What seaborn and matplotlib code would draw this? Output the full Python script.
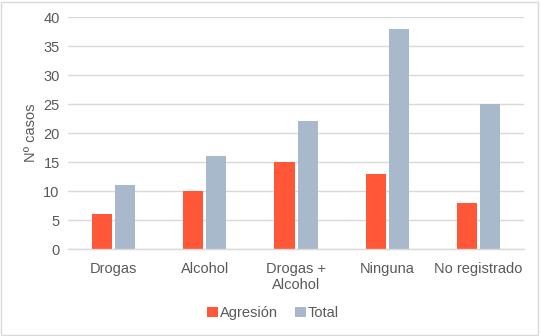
import matplotlib
matplotlib.use("Agg")
import matplotlib.pyplot as plt
import seaborn as sns
import pandas as pd
from matplotlib.patches import Rectangle

categories = ["Drogas", "Alcohol", "Drogas +\nAlcohol", "Ninguna", "No registrado"]
agresion = [6, 10, 15, 13, 8]
total = [11, 16, 22, 38, 25]
series_names = ["Agresión", "Total"]
y_ticks = [0, 5, 10, 15, 20, 25, 30, 35, 40]

df = pd.DataFrame({
    "cat": categories * 2,
    "serie": [series_names[0]] * len(categories) + [series_names[1]] * len(categories),
    "val": agresion + total,
})

sns.set_theme(style="white")
plt.rcParams["font.family"] = ["Liberation Sans", "DejaVu Sans"]

txt = "#595959"
grid = "#D9D9D9"

fig = plt.figure(figsize=(5.41, 3.36), dpi=100)
ax = fig.add_axes([0.1257, 0.2589, 0.8429, 0.6905])

sns.barplot(data=df, x="cat", y="val", hue="serie", order=categories,
            hue_order=series_names, palette=["#FF5737", "#A9B9CC"],
            width=0.505, gap=0.13, saturation=1, ax=ax, legend=True,
            linewidth=0)
for p in ax.patches:
    p.set_zorder(3)
    p.set_linewidth(0)

ax.set_ylim(0, 40)
ax.set_xlim(-0.5, len(categories) - 0.5)
ax.set_yticks(y_ticks)
ax.yaxis.grid(True, color=grid, linewidth=1)
ax.set_axisbelow(True)
for s in ["top", "right", "left"]:
    ax.spines[s].set_visible(False)
ax.spines["bottom"].set_color(grid)
ax.spines["bottom"].set_linewidth(1)
ax.spines["bottom"].set_zorder(4)
ax.tick_params(axis="y", length=0, labelsize=10.5, labelcolor=txt, pad=6)
ax.tick_params(axis="x", length=0, labelsize=10.5, labelcolor=txt, pad=9)
ax.set_xlabel("")
ax.set_ylabel("Nº casos", fontsize=10.5, color=txt, labelpad=4)

handles, labels = ax.get_legend_handles_labels()
ax.legend(handles, labels, loc="center", bbox_to_anchor=(0.505, 0.068),
          bbox_transform=fig.transFigure, ncol=2, frameon=False,
          fontsize=10.5, labelcolor=txt, handlelength=0.7, handleheight=0.7,
          handletextpad=0.15, columnspacing=1.2)

fig.patches.append(Rectangle((0.002, 0.003), 0.993, 0.99, transform=fig.transFigure,
                             fill=False, edgecolor=grid, linewidth=1))

fig.savefig("out.png", dpi=100, facecolor="white")
